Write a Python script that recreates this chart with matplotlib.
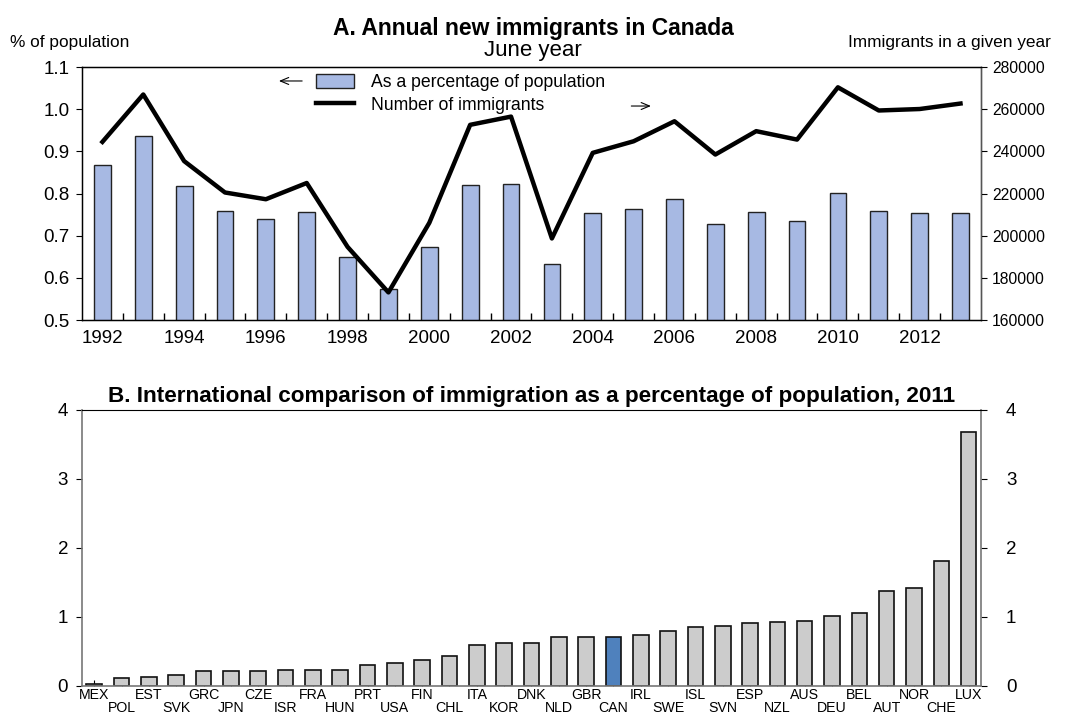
import numpy as np
import matplotlib
matplotlib.use("Agg")
import matplotlib.pyplot as plt

plt.rcParams['font.family'] = ['Liberation Sans', 'DejaVu Sans']

# Panel A data
years = list(range(1992, 2014))
pct_pop = [0.867, 0.936, 0.817, 0.758, 0.739, 0.757, 0.649, 0.573, 0.674, 0.820, 0.823,
           0.633, 0.753, 0.763, 0.786, 0.728, 0.756, 0.735, 0.802, 0.758, 0.754, 0.753]
n_immig = [244500, 267000, 235400, 220500, 217300, 225000, 194700, 173100, 206100, 252600, 256500,
           198700, 239300, 244800, 254300, 238500, 249600, 245600, 270400, 259400, 260100, 262700]

# Panel B data
countries = ['MEX', 'POL', 'EST', 'SVK', 'GRC', 'JPN', 'CZE', 'ISR', 'FRA', 'HUN', 'PRT',
             'USA', 'FIN', 'CHL', 'ITA', 'KOR', 'DNK', 'NLD', 'GBR', 'CAN', 'IRL', 'SWE',
             'ISL', 'SVN', 'ESP', 'NZL', 'AUS', 'DEU', 'BEL', 'AUT', 'NOR', 'CHE', 'LUX']
intl = [0.025, 0.11, 0.13, 0.16, 0.21, 0.21, 0.21, 0.225, 0.225, 0.235, 0.31,
        0.34, 0.38, 0.44, 0.59, 0.62, 0.62, 0.71, 0.71, 0.715, 0.74, 0.80,
        0.86, 0.875, 0.91, 0.92, 0.94, 1.02, 1.06, 1.37, 1.42, 1.81, 3.68]

fig = plt.figure(figsize=(10.66, 7.15), dpi=100)

# ---- Panel A ----
ax = fig.add_axes([0.0769, 0.5524, 0.8433, 0.3538])
x = np.arange(len(years))
ax.bar(x, pct_pop, width=0.41, color='#a7b9e3', edgecolor='#222222', linewidth=1,
       label='As a percentage of population', zorder=2)
ax.set_ylim(0.5, 1.1)
ax.set_xlim(-0.5, len(years) - 0.5)
ticks = np.arange(0.5, 1.11, 0.1)
ax.set_yticks(ticks)
ax.set_yticklabels(['%.1f' % v for v in ticks], fontsize=13.5)
ax.set_xticks(x[::2])
ax.set_xticklabels([str(y) for y in years[::2]], fontsize=13.5)
ax.tick_params(axis='x', length=0, pad=7)
ax.set_xticks(x[:-1] + 0.5, minor=True)
ax.tick_params(axis='x', which='minor', direction='in', length=5, width=1)
ax.tick_params(axis='y', direction='out', length=4, pad=5)
for s in ax.spines.values():
    s.set_linewidth(1)

ax2 = ax.twinx()
ax2.plot(x, n_immig, color='black', lw=3.2, label='Number of immigrants', zorder=3)
ax2.set_ylim(160000, 280000)
rt = list(range(160000, 280001, 20000))
ax2.set_yticks(rt)
ax2.set_yticklabels([str(v) for v in rt], fontsize=11.3)
ax2.tick_params(axis='y', direction='out', length=4, pad=4)
ax2.spines['right'].set_color('#555555')

h1, l1 = ax.get_legend_handles_labels()
h2, l2 = ax2.get_legend_handles_labels()
ax2.legend(h1 + h2, l1 + l2, loc='upper left', bbox_to_anchor=(0.2525, 1.0),
           frameon=False, fontsize=12.7, handlelength=2.15, handleheight=0.85,
           handletextpad=0.95, labelspacing=0.3, borderaxespad=0.0)
ax.annotate('', xy=(0.216, 0.945), xytext=(0.248, 0.945), xycoords='axes fraction',
            arrowprops=dict(arrowstyle='->,head_length=0.6,head_width=0.25', lw=0.8, color='black'))
ax.annotate('', xy=(0.636, 0.846), xytext=(0.608, 0.846), xycoords='axes fraction',
            arrowprops=dict(arrowstyle='->,head_length=0.6,head_width=0.25', lw=0.8, color='black'))

fig.text(0.5, 0.951, 'A. Annual new immigrants in Canada', ha='center', va='baseline',
         fontsize=16.5, fontweight='bold')
fig.text(0.5, 0.922, 'June year', ha='center', va='baseline', fontsize=16)
fig.text(0.009, 0.941, '% of population', ha='left', va='center', fontsize=12.4)
fig.text(0.986, 0.941, 'Immigrants in a given year', ha='right', va='center', fontsize=12.4)

# ---- Panel B ----
bx = fig.add_axes([0.0769, 0.0406, 0.8433, 0.386])
xb = np.arange(len(countries))
colors = ['#4f81bd' if c == 'CAN' else '#cccccc' for c in countries]
bx.bar(xb, intl, width=0.57, color=colors, edgecolor='#111111', linewidth=1.2, zorder=2)
bx.set_xlim(-0.45, len(countries) - 0.55)
bx.set_ylim(0, 4)
bx.set_yticks(range(5))
bx.set_yticklabels([str(v) for v in range(5)], fontsize=13.5)
bx.tick_params(axis='y', which='major', direction='out', length=4, pad=6, right=True)
by = bx.secondary_yaxis('right')
by.set_yticks(range(5))
by.set_yticklabels([str(v) for v in range(5)], fontsize=13.5)
by.tick_params(axis='y', length=0, pad=18)
by.spines['right'].set_visible(False)
bx.set_xticks(xb[::2])
bx.set_xticklabels(countries[::2], fontsize=10.2)
bx.set_xticks(xb[1::2], minor=True)
bx.set_xticklabels(countries[1::2], minor=True, fontsize=10.2)
bx.tick_params(axis='x', which='major', direction='in', length=4, pad=1.5)
bx.tick_params(axis='x', which='minor', direction='in', length=4, pad=11)
for side in ['left', 'right', 'bottom']:
    bx.spines[side].set_color('#777777')
    bx.spines[side].set_linewidth(1.2)
bx.spines['top'].set_linewidth(0.8)
bx.set_title('B. International comparison of immigration as a percentage of population, 2011',
             fontsize=16.2, fontweight='bold', pad=6)

fig.savefig('out.png', dpi=100)
